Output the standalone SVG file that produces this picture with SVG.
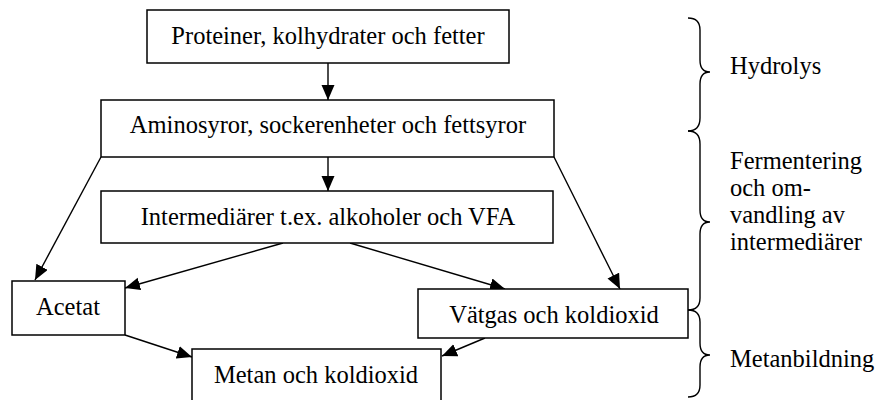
<svg xmlns="http://www.w3.org/2000/svg" width="880" height="400" viewBox="0 0 880 400">
<style>
  .box { fill: #ffffff; stroke: #000000; stroke-width: 1.5; }
  .t { font-family: "Liberation Serif", "Times New Roman", serif; font-size: 24.5px; fill: #000000; }
  .c { text-anchor: middle; }
  .conn { stroke: #000000; stroke-width: 1.4; fill: none; marker-end: url(#arrow); }
  .brace { stroke: #000000; stroke-width: 1.4; fill: none; }
</style>
<defs>
  <marker id="arrow" markerUnits="userSpaceOnUse" markerWidth="16" markerHeight="14" refX="15" refY="6.5" orient="auto">
    <path d="M0,0 L15,6.5 L0,13 z" fill="#000000"/>
  </marker>
</defs>
<rect width="880" height="400" fill="#ffffff"/>

<g id="connectors">
  <line class="conn" x1="328" y1="63" x2="328" y2="100"/>
  <line class="conn" x1="328" y1="157" x2="328" y2="191"/>
  <line class="conn" x1="101" y1="157" x2="35" y2="280"/>
  <line class="conn" x1="283" y1="243" x2="125" y2="288"/>
  <line class="conn" x1="350" y1="243" x2="505" y2="289"/>
  <line class="conn" x1="554" y1="157" x2="620" y2="289"/>
  <line class="conn" x1="125" y1="335" x2="192" y2="357"/>
  <line class="conn" x1="485" y1="338" x2="442" y2="356"/>
</g>

<g id="n_proteiner">
  <rect class="box" x="147" y="10" width="362" height="53"/>
  <text class="t c" x="328" y="44">Proteiner, kolhydrater och fetter</text>
</g>
<g id="n_aminosyror">
  <rect class="box" x="101" y="100" width="453" height="57"/>
  <text class="t c" x="328" y="133">Aminosyror, sockerenheter och fettsyror</text>
</g>
<g id="n_intermediarer">
  <rect class="box" x="101" y="191" width="452" height="52"/>
  <text class="t c" x="328" y="225">Intermediärer t.ex. alkoholer och VFA</text>
</g>
<g id="n_acetat">
  <rect class="box" x="12" y="281" width="113" height="54"/>
  <text class="t c" x="68" y="315">Acetat</text>
</g>
<g id="n_vatgas">
  <rect class="box" x="418" y="289" width="270" height="49"/>
  <text class="t c" x="554" y="323">Vätgas och koldioxid</text>
</g>
<g id="n_metan">
  <rect class="box" x="192" y="349" width="249" height="56"/>
  <text class="t c" x="316" y="383">Metan och koldioxid</text>
</g>

<g id="phases">
  <path class="brace" d="M688,18 Q700,18 700,30 L700,60 Q700,72 710,72 Q700,72 700,84 L700,118 Q700,131 688,131"/>
  <path class="brace" d="M688,131 Q700,131 700,144 L700,210 Q700,222 710,222 Q700,222 700,234 L700,298 Q700,310 688,310"/>
  <path class="brace" d="M688,310 Q700,310 700,322 L700,343 Q700,355 710,355 Q700,355 700,367 L700,385 Q700,397 688,397"/>
  <text class="t" x="730" y="74">Hydrolys</text>
  <text class="t" x="730" y="169">Fermentering</text>
  <text class="t" x="730" y="196">och om-</text>
  <text class="t" x="730" y="223">vandling av</text>
  <text class="t" x="730" y="250">intermediärer</text>
  <text class="t" x="730" y="367">Metanbildning</text>
</g>
</svg>
